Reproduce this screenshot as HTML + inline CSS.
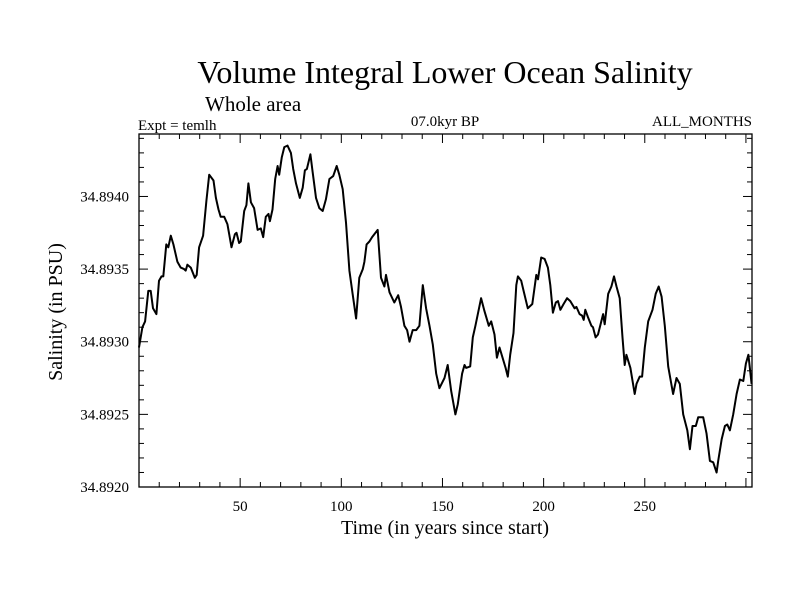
<!DOCTYPE html>
<html><head><meta charset="utf-8"><style>
body{margin:0;background:#fff}
svg text{font-family:"Liberation Serif",serif;fill:#000}
</style></head><body>
<svg id="chart" width="800" height="600">
<text x="445" y="83" font-size="32" text-anchor="middle">Volume Integral Lower Ocean Salinity</text>
<text x="205" y="111" font-size="21">Whole area</text>
<text x="138" y="130" font-size="15">Expt = temlh</text>
<text x="445" y="126" font-size="15" text-anchor="middle">07.0kyr BP</text>
<text x="752" y="126" font-size="15" text-anchor="end">ALL_MONTHS</text>
<text x="445" y="534" font-size="20" text-anchor="middle">Time (in years since start)</text>
<text transform="translate(62,312) rotate(-90)" font-size="20" text-anchor="middle">Salinity (in PSU)</text>
<g id="axes"></g>
<path id="line" fill="none" stroke="#000" stroke-width="2" stroke-linejoin="round"></path>
</svg>
<script>
const years=[0,1.7,3,4.6,5.8,6.9,8.6,9.9,11.1,12,13.5,14.5,15.7,17,19,20.6,22.3,23.1,23.9,25.6,27.6,28.5,29.7,31.7,33.3,34.7,36.8,38,39.3,40.4,42.1,43.7,44.6,45.7,47.4,48.2,49.5,50.3,52,53.1,54.1,55.3,56.9,58.6,60.2,61.4,62.7,64,64.7,66,67.3,68.5,69.3,70.6,71.8,73.4,75.1,76.2,77.6,79.5,80.9,82,83,84.7,85.8,87.5,89.1,90.8,92.4,94.1,96,97.7,99,100.7,102.3,104,105.6,107.3,108.9,110.6,111.4,112.5,113.9,115.2,118,119.6,121.3,122.1,123.8,126.2,128.1,129.5,131.2,132.5,133.7,135.3,137,138.6,140.3,141.9,143.6,145.2,146.9,148.5,151,152.6,154.3,156.4,157.6,159.7,160.9,161.7,163.7,165,166.3,169.1,170.8,172.9,174.1,175.7,176.9,178.2,179.9,181.2,182.3,183.5,185.1,186.5,187.3,188.9,190.1,192.2,194.4,196.4,197.2,198.8,200.5,202.1,203.3,204.6,206,207.1,208.3,209.9,211.6,213.2,215.3,216.2,217.8,219,219.8,220.6,221.9,223.6,224.4,225.7,226.9,228.5,229.4,230.2,231.9,233.5,234.8,236,237.6,239,240.1,240.9,242.9,245,245.9,247.5,248.7,250,251.7,253.8,255.4,256.9,258.3,259.9,261.6,264,265.7,267.3,269,271,272.3,273.6,275.2,276.4,277.6,278.9,280.5,282.2,283.8,285.5,286.3,288,289.6,290.8,292.1,293.7,295.4,297,298.7,300,301.2,302.8];
const salinity=[34.89296,34.8931,34.89314,34.89335,34.89335,34.89323,34.89319,34.89342,34.89345,34.89345,34.89367,34.89365,34.89373,34.89367,34.89355,34.89351,34.8935,34.89349,34.89353,34.89351,34.89344,34.89346,34.89365,34.89373,34.89397,34.89415,34.89411,34.89399,34.89391,34.89386,34.89386,34.89381,34.89374,34.89365,34.89374,34.89375,34.89368,34.89369,34.8939,34.89394,34.89409,34.89396,34.89392,34.89377,34.89378,34.89372,34.89386,34.89388,34.89383,34.89391,34.89412,34.89421,34.89415,34.89427,34.89434,34.89435,34.8943,34.89419,34.89409,34.89399,34.89406,34.89418,34.89419,34.89429,34.89417,34.89399,34.89392,34.8939,34.89398,34.89412,34.89414,34.89421,34.89415,34.89405,34.89382,34.89349,34.89333,34.89316,34.89344,34.8935,34.89355,34.89367,34.89369,34.89372,34.89377,34.89344,34.89338,34.89346,34.89334,34.89327,34.89332,34.89324,34.89311,34.89308,34.893,34.89308,34.89308,34.89311,34.89339,34.89323,34.89311,34.89298,34.89278,34.89268,34.89275,34.89284,34.89266,34.8925,34.89257,34.89278,34.89284,34.89282,34.89283,34.89303,34.89311,34.8933,34.89321,34.89311,34.89314,34.89305,34.89289,34.89296,34.89288,34.89282,34.89276,34.89291,34.89306,34.89339,34.89345,34.89342,34.89335,34.89323,34.89326,34.89346,34.89343,34.89358,34.89357,34.89351,34.89339,34.8932,34.89327,34.89328,34.89322,34.89326,34.8933,34.89328,34.89323,34.89324,34.89319,34.89318,34.89315,34.89322,34.89317,34.89311,34.8931,34.89303,34.89305,34.89314,34.89319,34.89312,34.89333,34.89338,34.89345,34.89338,34.8933,34.89303,34.89284,34.89291,34.89282,34.89264,34.89271,34.89276,34.89276,34.89296,34.89314,34.89322,34.89333,34.89338,34.89331,34.89311,34.89283,34.89264,34.89275,34.89271,34.8925,34.89239,34.89226,34.89242,34.89242,34.89248,34.89248,34.89248,34.89237,34.89218,34.89217,34.8921,34.89218,34.89233,34.89242,34.89243,34.89239,34.8925,34.89264,34.89274,34.89273,34.89285,34.89291,34.89271];
const xTickLabels=[50,100,150,200,250];
const yTickLabels=["34.8920","34.8925","34.8930","34.8935","34.8940"];
const X0=139,X1=752,Y0=487,Y1=134;
const xMin=0,xMax=303,yMin=34.892,yMax=34.89443;
const sx=v=>X0+(v-xMin)/(xMax-xMin)*(X1-X0);
const sy=v=>Y0-(v-yMin)/(yMax-yMin)*(Y0-Y1);
const NS="http://www.w3.org/2000/svg";
const axes=document.getElementById('axes');
function mk(tag,attrs){const e=document.createElementNS(NS,tag);for(const k in attrs)e.setAttribute(k,attrs[k]);axes.appendChild(e);return e;}
const frame=mk('rect',{x:X0,y:Y1,width:X1-X0,height:Y0-Y1,fill:'none',stroke:'#000','stroke-width':1.3});


for(let t=10;t<xMax;t+=10){
  const L=(t%50===0)?9:5, x=sx(t);
  const a=mk('line',{x1:x,x2:x,y1:Y0,y2:Y0-L,stroke:'#000'});
  
  
  const b=mk('line',{x1:x,x2:x,y1:Y1,y2:Y1+L,stroke:'#000'});
  
  
}
xTickLabels.forEach(t=>{
  const e=mk('text',{x:sx(t),y:Y0+24,'font-size':15,'text-anchor':'middle'});
  e.textContent=t;
  
  
});
for(let i=1;i<=24;i++){
  const v=yMin+i*0.0001;if(v>yMax)break;
  const L=(i%5===0)?9:5, y=sy(v);
  const a=mk('line',{x1:X0,x2:X0+L,y1:y,y2:y,stroke:'#000'});
  
  
  const b=mk('line',{x1:X1,x2:X1-L,y1:y,y2:y,stroke:'#000'});
  
  
}
yTickLabels.forEach(t=>{
  const e=mk('text',{x:X0-10,y:sy(parseFloat(t))+5,'font-size':15,'text-anchor':'end'});
  e.textContent=t;
  
  
});
document.getElementById('line').setAttribute('d',years.map((y,i)=>(i?'L':'M')+sx(y).toFixed(1)+','+sy(salinity[i]).toFixed(1)).join(''));
</script>
</body></html>
